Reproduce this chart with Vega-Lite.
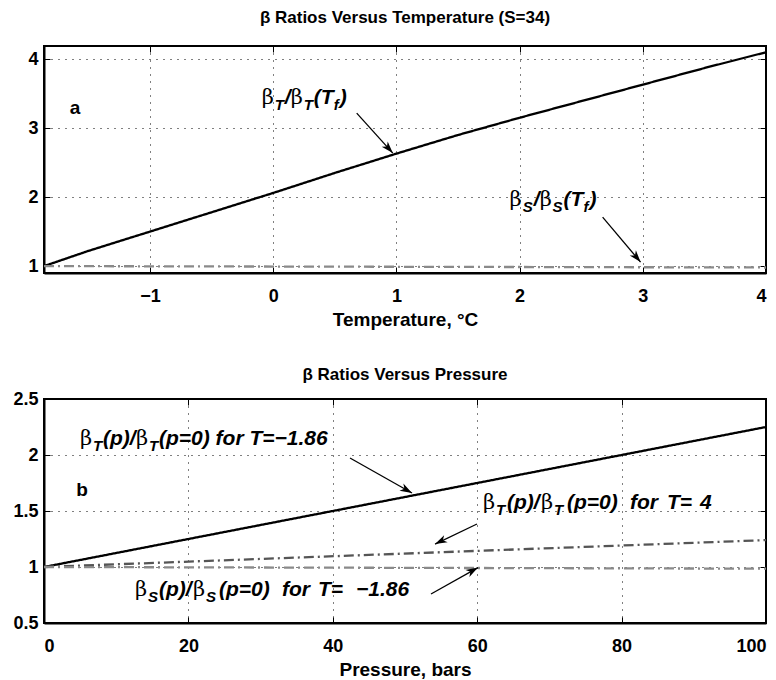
{
  "$schema": "https://vega.github.io/schema/vega-lite/v6.json",
  "autosize": {"type": "none"},
  "padding": {"left": 44, "top": 46, "right": 732, "bottom": 634},
  "bounds": "flush",
  "spacing": 126,
  "config": {
    "font": "Liberation Sans",
    "view": {"stroke": "#000", "strokeWidth": 2},
    "axis": {
      "grid": true, "gridColor": "#000", "gridDash": [1, 6], "gridWidth": 1,
      "domainColor": "#000", "domainWidth": 2, "ticks": true, "tickSize": -6, "tickColor": "#000", "tickWidth": 1,
      "labelFont": "Liberation Sans", "labelFontSize": 18, "labelFontWeight": "bold", "labelColor": "#000", "labelPadding": 20,
      "titleFont": "Liberation Sans", "titleFontSize": 19, "titleFontWeight": "bold", "titleColor": "#000", "titlePadding": 5
    },
    "title": {"font": "Liberation Sans", "fontSize": 17, "fontWeight": "bold", "color": "#000"}
  },
  "datasets": {
    "lines": [
      {"panel": "a", "s": "bT", "x": -1.86, "y": 1.0},
      {"panel": "a", "s": "bT", "x": -1.5, "y": 1.22},
      {"panel": "a", "s": "bT", "x": -1.0, "y": 1.5},
      {"panel": "a", "s": "bT", "x": -0.5, "y": 1.78},
      {"panel": "a", "s": "bT", "x": 0.0, "y": 2.06},
      {"panel": "a", "s": "bT", "x": 0.5, "y": 2.35},
      {"panel": "a", "s": "bT", "x": 1.0, "y": 2.63},
      {"panel": "a", "s": "bT", "x": 1.5, "y": 2.9},
      {"panel": "a", "s": "bT", "x": 2.0, "y": 3.15},
      {"panel": "a", "s": "bT", "x": 2.5, "y": 3.39},
      {"panel": "a", "s": "bT", "x": 3.0, "y": 3.63},
      {"panel": "a", "s": "bT", "x": 3.5, "y": 3.87},
      {"panel": "a", "s": "bT", "x": 4.0, "y": 4.1},
      {"panel": "a", "s": "bS", "x": -1.86, "y": 1.0},
      {"panel": "a", "s": "bS", "x": 4.0, "y": 0.98},
      {"panel": "b", "s": "bT", "x": 0, "y": 1.0},
      {"panel": "b", "s": "bT", "x": 100, "y": 2.25},
      {"panel": "b", "s": "bT4", "x": 0, "y": 1.0},
      {"panel": "b", "s": "bT4", "x": 100, "y": 1.24},
      {"panel": "b", "s": "bS", "x": 0, "y": 1.0},
      {"panel": "b", "s": "bS", "x": 100, "y": 0.985}
    ],
    "arrows": [
      {"panel": "a", "id": 1, "x": 0.678, "y": 3.217, "x2": 0.971, "y2": 2.638},
      {"panel": "a", "id": 2, "x": 2.674, "y": 1.71, "x2": 2.982, "y2": 1.058},
      {"panel": "b", "id": 3, "x": 42.38, "y": 1.973, "x2": 50.97, "y2": 1.661},
      {"panel": "b", "id": 4, "x": 59.97, "y": 1.384, "x2": 54.16, "y2": 1.205},
      {"panel": "b", "id": 5, "x": 53.6, "y": 0.759, "x2": 60.11, "y2": 0.995}
    ],
    "labels": [
      {"panel": "a", "k": "b", "x": -0.092, "y": 3.348, "t": "β"},
      {"panel": "a", "k": "s", "x": 0.013, "y": 3.261, "t": "T"},
      {"panel": "a", "k": "m", "x": 0.095, "y": 3.348, "t": "/"},
      {"panel": "a", "k": "b", "x": 0.143, "y": 3.348, "t": "β"},
      {"panel": "a", "k": "s", "x": 0.249, "y": 3.261, "t": "T"},
      {"panel": "a", "k": "m", "x": 0.33, "y": 3.348, "t": "(T"},
      {"panel": "a", "k": "s", "x": 0.492, "y": 3.261, "t": "f"},
      {"panel": "a", "k": "m", "x": 0.541, "y": 3.348, "t": ")"},
      {"panel": "a", "k": "b", "x": 1.919, "y": 1.87, "t": "β"},
      {"panel": "a", "k": "s", "x": 2.025, "y": 1.783, "t": "S"},
      {"panel": "a", "k": "m", "x": 2.114, "y": 1.87, "t": "/"},
      {"panel": "a", "k": "b", "x": 2.163, "y": 1.87, "t": "β"},
      {"panel": "a", "k": "s", "x": 2.268, "y": 1.783, "t": "S"},
      {"panel": "a", "k": "m", "x": 2.357, "y": 1.87, "t": "(T"},
      {"panel": "a", "k": "s", "x": 2.519, "y": 1.783, "t": "f"},
      {"panel": "a", "k": "m", "x": 2.568, "y": 1.87, "t": ")"},
      {"panel": "a", "k": "l", "x": -1.609, "y": 3.29, "t": "a"},
      {"panel": "b", "k": "b", "x": 4.986, "y": 2.089, "t": "β"},
      {"panel": "b", "k": "s", "x": 6.787, "y": 2.036, "t": "T"},
      {"panel": "b", "k": "m", "x": 8.172, "y": 2.089, "t": "(p)/"},
      {"panel": "b", "k": "b", "x": 12.742, "y": 2.089, "t": "β"},
      {"panel": "b", "k": "s", "x": 14.543, "y": 2.036, "t": "T"},
      {"panel": "b", "k": "m", "x": 15.928, "y": 2.089, "t": "(p=0) for T=−1.86"},
      {"panel": "b", "k": "b", "x": 60.8, "y": 1.518, "t": "β"},
      {"panel": "b", "k": "s", "x": 62.6, "y": 1.464, "t": "T"},
      {"panel": "b", "k": "m", "x": 64.13, "y": 1.518, "t": "(p)/"},
      {"panel": "b", "k": "b", "x": 68.84, "y": 1.518, "t": "β"},
      {"panel": "b", "k": "s", "x": 70.64, "y": 1.464, "t": "T"},
      {"panel": "b", "k": "m", "x": 72.44, "y": 1.518, "t": "(p=0)"},
      {"panel": "b", "k": "m", "x": 81.16, "y": 1.518, "t": "for"},
      {"panel": "b", "k": "m", "x": 86.29, "y": 1.518, "t": "T="},
      {"panel": "b", "k": "m", "x": 90.86, "y": 1.518, "t": "4"},
      {"panel": "b", "k": "b", "x": 12.6, "y": 0.741, "t": "β"},
      {"panel": "b", "k": "s", "x": 14.4, "y": 0.6875, "t": "S"},
      {"panel": "b", "k": "m", "x": 15.93, "y": 0.741, "t": "(p)/"},
      {"panel": "b", "k": "b", "x": 20.64, "y": 0.741, "t": "β"},
      {"panel": "b", "k": "s", "x": 22.44, "y": 0.6875, "t": "S"},
      {"panel": "b", "k": "m", "x": 24.24, "y": 0.741, "t": "(p=0)"},
      {"panel": "b", "k": "m", "x": 32.96, "y": 0.741, "t": "for"},
      {"panel": "b", "k": "m", "x": 37.95, "y": 0.741, "t": "T="},
      {"panel": "b", "k": "m", "x": 43.21, "y": 0.741, "t": "−1.86"},
      {"panel": "b", "k": "l", "x": 5.26, "y": 1.6875, "t": "b"}
    ]
  },
  "vconcat": [
    {
      "width": 722, "height": 227,
      "title": {"text": "β Ratios Versus Temperature (S=34)", "offset": 19},
      "resolve": {"axis": {"x": "independent", "y": "independent"}},
      "layer": [
        {
          "data": {"name": "lines"},
          "transform": [{"filter": "datum.panel === 'a'"}],
          "mark": {"type": "line", "strokeWidth": 2.3, "clip": true},
          "encoding": {
            "x": {"field": "x", "type": "quantitative", "scale": {"domain": [-1.86, 4], "nice": false, "zero": false}, "axis": {"orient": "bottom", "values": [-1, 0, 1, 2, 3, 4], "format": "~g"}, "title": "Temperature, °C"},
            "y": {"field": "y", "type": "quantitative", "scale": {"domain": [0.9, 4.19], "nice": false, "zero": false}, "axis": {"orient": "left", "values": [1, 2, 3, 4], "format": "~g", "labelPadding": 12}, "title": null},
            "color": {"field": "s", "type": "nominal", "scale": {"domain": ["bT", "bS", "bT4"], "range": ["#000000", "#8a8a8a", "#555555"]}, "legend": null},
            "strokeDash": {"field": "s", "type": "nominal", "scale": {"domain": ["bT", "bS", "bT4"], "range": [[1, 0], [10, 4, 2, 4], [10, 4, 2, 4]]}, "legend": null}
          }
        },
        {
          "data": {"name": "lines"},
          "transform": [{"filter": "datum.panel === 'a'"}],
          "mark": {"type": "point", "opacity": 0},
          "encoding": {
            "x": {"field": "x", "type": "quantitative", "axis": {"orient": "top", "values": [-1, 0, 1, 2, 3, 4], "labels": false, "grid": false, "domain": false, "title": null}},
            "y": {"field": "y", "type": "quantitative", "axis": {"orient": "right", "values": [1, 2, 3, 4], "labels": false, "grid": false, "domain": false, "title": null}}
          }
        },
        {
          "data": {"name": "arrows"},
          "transform": [{"filter": "datum.panel === 'a'"}],
          "mark": {"type": "rule", "strokeWidth": 1.3, "color": "#000"},
          "encoding": {
            "x": {"field": "x", "type": "quantitative", "axis": null},
            "y": {"field": "y", "type": "quantitative", "axis": null},
            "x2": {"field": "x2"}, "y2": {"field": "y2"}
          }
        },
        {
          "data": {"name": "arrows"},
          "transform": [{"filter": "datum.id === 1"}],
          "mark": {"type": "point", "shape": "M0,0L-0.6,1.8L0,1.3L0.6,1.8Z", "filled": true, "color": "#000", "opacity": 1, "size": 180, "angle": 138},
          "encoding": {
            "x": {"field": "x2", "type": "quantitative", "axis": null},
            "y": {"field": "y2", "type": "quantitative", "axis": null}
          }
        },
        {
          "data": {"name": "arrows"},
          "transform": [{"filter": "datum.id === 2"}],
          "mark": {"type": "point", "shape": "M0,0L-0.6,1.8L0,1.3L0.6,1.8Z", "filled": true, "color": "#000", "opacity": 1, "size": 180, "angle": 140},
          "encoding": {
            "x": {"field": "x2", "type": "quantitative", "axis": null},
            "y": {"field": "y2", "type": "quantitative", "axis": null}
          }
        },
        {
          "data": {"name": "labels"},
          "transform": [{"filter": "datum.panel === 'a' && datum.k === 'b'"}],
          "mark": {"type": "text", "align": "left", "baseline": "alphabetic", "font": "DejaVu Serif", "fontSize": 21, "color": "#000"},
          "encoding": {
            "x": {"field": "x", "type": "quantitative", "axis": null},
            "y": {"field": "y", "type": "quantitative", "axis": null},
            "text": {"field": "t"}
          }
        },
        {
          "data": {"name": "labels"},
          "transform": [{"filter": "datum.panel === 'a' && datum.k === 'm'"}],
          "mark": {"type": "text", "align": "left", "baseline": "alphabetic", "font": "Liberation Sans", "fontSize": 21, "fontWeight": "bold", "fontStyle": "italic", "color": "#000"},
          "encoding": {
            "x": {"field": "x", "type": "quantitative", "axis": null},
            "y": {"field": "y", "type": "quantitative", "axis": null},
            "text": {"field": "t"}
          }
        },
        {
          "data": {"name": "labels"},
          "transform": [{"filter": "datum.panel === 'a' && datum.k === 's'"}],
          "mark": {"type": "text", "align": "left", "baseline": "alphabetic", "font": "Liberation Sans", "fontSize": 15, "fontWeight": "bold", "fontStyle": "italic", "color": "#000"},
          "encoding": {
            "x": {"field": "x", "type": "quantitative", "axis": null},
            "y": {"field": "y", "type": "quantitative", "axis": null},
            "text": {"field": "t"}
          }
        },
        {
          "data": {"name": "labels"},
          "transform": [{"filter": "datum.panel === 'a' && datum.k === 'l'"}],
          "mark": {"type": "text", "align": "center", "baseline": "middle", "font": "Liberation Sans", "fontSize": 19, "fontWeight": "bold", "color": "#000"},
          "encoding": {
            "x": {"field": "x", "type": "quantitative", "axis": null},
            "y": {"field": "y", "type": "quantitative", "axis": null},
            "text": {"field": "t"}
          }
        }
      ]
    },
    {
      "width": 722, "height": 224,
      "title": {"text": "β Ratios Versus Pressure", "offset": 6},
      "resolve": {"axis": {"x": "independent", "y": "independent"}},
      "layer": [
        {
          "data": {"name": "lines"},
          "transform": [{"filter": "datum.panel === 'b'"}],
          "mark": {"type": "line", "strokeWidth": 2.3, "clip": true},
          "encoding": {
            "x": {"field": "x", "type": "quantitative", "scale": {"domain": [0, 100], "nice": false, "zero": false}, "axis": {"orient": "bottom", "values": [0, 20, 40, 60, 80, 100]}, "title": "Pressure, bars"},
            "y": {"field": "y", "type": "quantitative", "scale": {"domain": [0.5, 2.5], "nice": false, "zero": false}, "axis": {"orient": "left", "values": [0.5, 1, 1.5, 2, 2.5], "format": "~g", "labelPadding": 12}, "title": null},
            "color": {"field": "s", "type": "nominal", "scale": {"domain": ["bT", "bS", "bT4"], "range": ["#000000", "#8a8a8a", "#555555"]}, "legend": null},
            "strokeDash": {"field": "s", "type": "nominal", "scale": {"domain": ["bT", "bS", "bT4"], "range": [[1, 0], [10, 4, 2, 4], [10, 4, 2, 4]]}, "legend": null}
          }
        },
        {
          "data": {"name": "lines"},
          "transform": [{"filter": "datum.panel === 'b'"}],
          "mark": {"type": "point", "opacity": 0},
          "encoding": {
            "x": {"field": "x", "type": "quantitative", "axis": {"orient": "top", "values": [0, 20, 40, 60, 80, 100], "labels": false, "grid": false, "domain": false, "title": null}},
            "y": {"field": "y", "type": "quantitative", "axis": {"orient": "right", "values": [0.5, 1, 1.5, 2, 2.5], "labels": false, "grid": false, "domain": false, "title": null}}
          }
        },
        {
          "data": {"name": "arrows"},
          "transform": [{"filter": "datum.panel === 'b'"}],
          "mark": {"type": "rule", "strokeWidth": 1.3, "color": "#000"},
          "encoding": {
            "x": {"field": "x", "type": "quantitative", "axis": null},
            "y": {"field": "y", "type": "quantitative", "axis": null},
            "x2": {"field": "x2"}, "y2": {"field": "y2"}
          }
        },
        {
          "data": {"name": "arrows"},
          "transform": [{"filter": "datum.id === 3"}],
          "mark": {"type": "point", "shape": "M0,0L-0.6,1.8L0,1.3L0.6,1.8Z", "filled": true, "color": "#000", "opacity": 1, "size": 180, "angle": 119},
          "encoding": {
            "x": {"field": "x2", "type": "quantitative", "axis": null},
            "y": {"field": "y2", "type": "quantitative", "axis": null}
          }
        },
        {
          "data": {"name": "arrows"},
          "transform": [{"filter": "datum.id === 4"}],
          "mark": {"type": "point", "shape": "M0,0L-0.6,1.8L0,1.3L0.6,1.8Z", "filled": true, "color": "#000", "opacity": 1, "size": 180, "angle": 244},
          "encoding": {
            "x": {"field": "x2", "type": "quantitative", "axis": null},
            "y": {"field": "y2", "type": "quantitative", "axis": null}
          }
        },
        {
          "data": {"name": "arrows"},
          "transform": [{"filter": "datum.id === 5"}],
          "mark": {"type": "point", "shape": "M0,0L-0.6,1.8L0,1.3L0.6,1.8Z", "filled": true, "color": "#000", "opacity": 1, "size": 180, "angle": 61},
          "encoding": {
            "x": {"field": "x2", "type": "quantitative", "axis": null},
            "y": {"field": "y2", "type": "quantitative", "axis": null}
          }
        },
        {
          "data": {"name": "labels"},
          "transform": [{"filter": "datum.panel === 'b' && datum.k === 'b'"}],
          "mark": {"type": "text", "align": "left", "baseline": "alphabetic", "font": "DejaVu Serif", "fontSize": 21, "color": "#000"},
          "encoding": {
            "x": {"field": "x", "type": "quantitative", "axis": null},
            "y": {"field": "y", "type": "quantitative", "axis": null},
            "text": {"field": "t"}
          }
        },
        {
          "data": {"name": "labels"},
          "transform": [{"filter": "datum.panel === 'b' && datum.k === 'm'"}],
          "mark": {"type": "text", "align": "left", "baseline": "alphabetic", "font": "Liberation Sans", "fontSize": 21, "fontWeight": "bold", "fontStyle": "italic", "color": "#000"},
          "encoding": {
            "x": {"field": "x", "type": "quantitative", "axis": null},
            "y": {"field": "y", "type": "quantitative", "axis": null},
            "text": {"field": "t"}
          }
        },
        {
          "data": {"name": "labels"},
          "transform": [{"filter": "datum.panel === 'b' && datum.k === 's'"}],
          "mark": {"type": "text", "align": "left", "baseline": "alphabetic", "font": "Liberation Sans", "fontSize": 15, "fontWeight": "bold", "fontStyle": "italic", "color": "#000"},
          "encoding": {
            "x": {"field": "x", "type": "quantitative", "axis": null},
            "y": {"field": "y", "type": "quantitative", "axis": null},
            "text": {"field": "t"}
          }
        },
        {
          "data": {"name": "labels"},
          "transform": [{"filter": "datum.panel === 'b' && datum.k === 'l'"}],
          "mark": {"type": "text", "align": "center", "baseline": "middle", "font": "Liberation Sans", "fontSize": 19, "fontWeight": "bold", "color": "#000"},
          "encoding": {
            "x": {"field": "x", "type": "quantitative", "axis": null},
            "y": {"field": "y", "type": "quantitative", "axis": null},
            "text": {"field": "t"}
          }
        }
      ]
    }
  ]
}
